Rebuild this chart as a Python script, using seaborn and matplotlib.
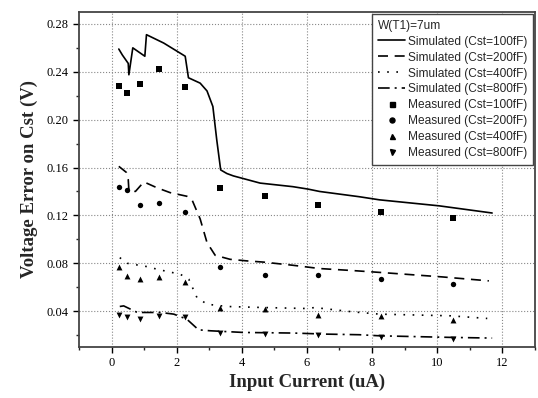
import pandas as pd
import matplotlib.pyplot as plt
import seaborn as sns
from matplotlib.lines import Line2D
from matplotlib.ticker import MultipleLocator

# simulated curves
sim100_x = [0.22, 0.33, 0.51, 0.53, 0.65, 1.02, 1.07, 1.6, 2.26, 2.36, 2.72, 2.93, 3.11, 3.23, 3.35,
            3.54, 3.74, 4.15, 4.56, 5.57, 6.03, 6.39, 7.61, 8.23, 10.06, 11.69]
sim100_y = [0.259, 0.254, 0.247, 0.2375, 0.260, 0.253, 0.271, 0.264, 0.253, 0.235, 0.2305, 0.224, 0.211,
            0.183, 0.158, 0.155, 0.153, 0.150, 0.147, 0.144, 0.142, 0.140, 0.1356, 0.133, 0.128, 0.122]

sim200_x = [0.22, 0.45, 0.51, 0.53, 0.73, 0.99, 1.40, 1.80, 2.31, 2.47, 2.72, 2.93, 3.18, 3.64, 4.15,
            4.66, 5.58, 6.39, 7.41, 8.33, 10.16, 11.59]
sim200_y = [0.161, 0.156, 0.150, 0.141, 0.140, 0.148, 0.143, 0.139, 0.136, 0.133, 0.117, 0.0973, 0.0867,
            0.0833, 0.082, 0.081, 0.0783, 0.0756, 0.0739, 0.0722, 0.0686, 0.0653]

sim400_x = [0.25, 0.48, 1.09, 1.40, 2.11, 2.37, 2.62, 2.93, 3.54, 4.56, 5.98, 6.24, 7.41, 8.23, 10.42, 11.54]
sim400_y = [0.0847, 0.080, 0.0772, 0.075, 0.0708, 0.0667, 0.0514, 0.0458, 0.0439, 0.0431, 0.0422, 0.043,
            0.0394, 0.0375, 0.0361, 0.0339]

sim800_x = [0.25, 0.37, 0.79, 1.50, 1.91, 2.31, 2.67, 3.03, 4.05, 5.58, 6.60, 7.61, 8.23, 10.37, 11.69]
sim800_y = [0.0439, 0.0444, 0.0389, 0.0389, 0.0375, 0.0333, 0.0244, 0.0236, 0.0222, 0.0217, 0.0208,
            0.0203, 0.0194, 0.0181, 0.0175]

# measured points
meas_x = [0.24, 0.48, 0.86, 1.45, 2.26, 3.34, 4.70, 6.35, 8.28, 10.49]
meas100 = [0.228, 0.222, 0.230, 0.242, 0.2275, 0.143, 0.136, 0.1286, 0.123, 0.1175]
meas200 = [0.144, 0.141, 0.1286, 0.130, 0.123, 0.0772, 0.070, 0.070, 0.0672, 0.063]
meas400 = [0.0772, 0.0694, 0.0672, 0.0686, 0.0644, 0.0428, 0.0422, 0.0367, 0.0361, 0.0325]
meas800 = [0.0367, 0.0347, 0.0333, 0.0356, 0.0347, 0.0214, 0.0208, 0.020, 0.0181, 0.0167]

caps = ["100fF", "200fF", "400fF", "800fF"]

sns.set_style("ticks")
plt.rcParams['font.family'] = ['Liberation Serif', 'DejaVu Serif']

fig = plt.figure(figsize=(5.38, 3.98), dpi=100)
ax = fig.add_axes([0.147, 0.128, 0.847, 0.842])

sims = [(sim100_x, sim100_y, '-'), (sim200_x, sim200_y, (0, (6, 4))),
        (sim400_x, sim400_y, (0, (1, 4.5))), (sim800_x, sim800_y, (0, (7, 3, 1.2, 3)))]
handles = []
for cap, (sx, sy, ls) in zip(caps, sims):
    d = pd.DataFrame({"x": sx, "y": sy})
    sns.lineplot(data=d, x="x", y="y", ax=ax, color="black", linewidth=1.2,
                 linestyle=ls, sort=False, estimator=None)
    handles.append(Line2D([], [], color="black", linewidth=1.2, linestyle=ls,
                          label=f"Simulated (Cst={cap})"))

marks = ['s', 'o', '^', 'v']
sizes = [13, 15, 18, 18]
for cap, my, mk, sz in zip(caps, [meas100, meas200, meas400, meas800], marks, sizes):
    d = pd.DataFrame({"x": meas_x, "y": my})
    sns.scatterplot(data=d, x="x", y="y", ax=ax, color="black", marker=mk, s=sz,
                    edgecolor="black", linewidth=0)
    handles.append(Line2D([], [], color="black", marker=mk, markersize=3.6, linestyle='none',
                          label=f"Measured (Cst={cap})"))

ax.set_xlim(-1, 13)
ax.set_ylim(0.01, 0.29)
ax.xaxis.set_major_locator(MultipleLocator(2))
ax.xaxis.set_minor_locator(MultipleLocator(1))
ax.yaxis.set_minor_locator(MultipleLocator(0.02))
ax.set_yticks([0.04, 0.08, 0.12, 0.16, 0.20, 0.24, 0.28])
ax.set_yticklabels(["0.04", "0.08", "0.12", "0.16", "0.20", "0.24", "0.28"])
ax.tick_params(which='major', length=4, width=1, labelsize=9, colors='black')
ax.tick_params(which='minor', length=2.5, width=1)
ax.grid(True, which='major', linestyle=':', color='#888888', linewidth=0.8)
for s in ax.spines.values():
    s.set_color('#444444')
    s.set_linewidth(1.3)

ax.set_xlabel("Input Current (uA)", fontsize=13.5, fontweight='bold', labelpad=3)
ax.set_ylabel("Voltage Error on Cst (V)", fontsize=13.5, fontweight='bold', labelpad=6)

leg = ax.legend(handles=handles, title="W(T1)=7um", loc='upper right', fancybox=False,
                framealpha=1, edgecolor='#444444', borderaxespad=0.15, handlelength=2.2,
                handletextpad=0.25, labelspacing=0.33, borderpad=0.5,
                prop={'family': 'Liberation Sans', 'size': 8.6},
                title_fontproperties={'family': 'Liberation Sans', 'size': 8.6})
leg._legend_box.align = "left"
leg.get_frame().set_linewidth(1.0)

fig.savefig("out.png", dpi=100)
